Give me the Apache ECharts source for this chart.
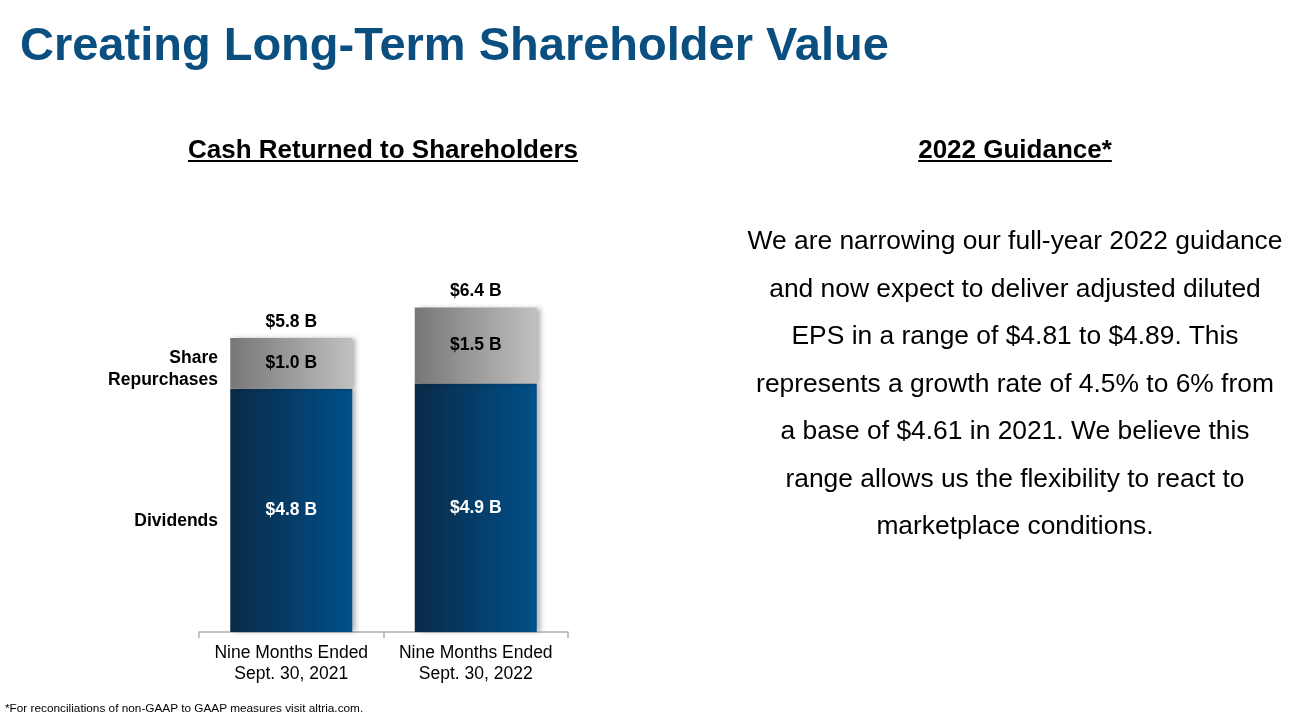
<!DOCTYPE html>
<html>
<head>
<meta charset="utf-8">
<title>Creating Long-Term Shareholder Value</title>
<script src="https://cdn.jsdelivr.net/npm/echarts@6/dist/echarts.min.js"></script>
<style>
  html, body { margin: 0; padding: 0; background: #fff; }
  body { width: 1301px; height: 721px; position: relative; overflow: hidden;
         font-family: "Liberation Sans", Arial, sans-serif; }
  #chart { position: absolute; left: 0; top: 0; width: 1301px; height: 721px; }
  .txt { position: absolute; white-space: nowrap; }
  #mainTitle { left: 20px; top: 16px; font-size: 47px; font-weight: bold; color: #0a4f80; }
  #chartTitle { left: 133px; top: 134px; width: 500px; text-align: center;
                font-size: 26px; font-weight: bold; color: #000; text-decoration: underline; }
  #guideTitle { left: 865px; top: 134px; width: 300px; text-align: center;
                font-size: 26px; font-weight: bold; color: #000; text-decoration: underline; }
  #guideText { left: 665px; top: 217px; width: 700px; text-align: center;
               font-size: 26.4px; line-height: 47.5px; color: #000; }
  #footnote { left: 5px; top: 701px; font-size: 11.8px; color: #000; }
</style>
</head>
<body>
<div id="chart"></div>
<div class="txt" id="mainTitle">Creating Long-Term Shareholder Value</div>
<div class="txt" id="chartTitle">Cash Returned to Shareholders</div>
<div class="txt" id="guideTitle">2022 Guidance*</div>
<div class="txt" id="guideText">We are narrowing our full-year 2022 guidance<br>and now expect to deliver adjusted diluted<br>EPS in a range of $4.81 to $4.89. This<br>represents a growth rate of 4.5% to 6% from<br>a base of $4.61 in 2021. We believe this<br>range allows us the flexibility to react to<br>marketplace conditions.</div>
<div class="txt" id="footnote">*For reconciliations of non-GAAP to GAAP measures visit altria.com.</div>
<script>
// 数据
var categories = ['Nine Months Ended\nSept. 30, 2021', 'Nine Months Ended\nSept. 30, 2022'];
var dividends = [4.8, 4.9];
var repurchases = [1.0, 1.5];
var totals = [5.8, 6.4];

var FONT = '"Liberation Sans", Arial, sans-serif';

function money(v) {
    return '$' + v.toFixed(1) + ' B';
}

var navy = new echarts.graphic.LinearGradient(0, 0, 1, 0, [
    { offset: 0, color: '#0a2a47' },
    { offset: 1, color: '#00508a' }
]);
var grey = new echarts.graphic.LinearGradient(0, 0, 1, 0, [
    { offset: 0, color: '#777777' },
    { offset: 1, color: '#c0c0c0' }
]);

var option = {
    animation: false,
    grid: { left: 199, width: 369, top: 125, height: 507 },
    xAxis: {
        type: 'category',
        data: categories,
        axisLine: { lineStyle: { color: '#b3b3b3', width: 1.5 } },
        axisTick: { show: true, interval: 0, length: 6, lineStyle: { color: '#b3b3b3', width: 1.5 } },
        axisLabel: { interval: 0, color: '#000', fontSize: 17.5, lineHeight: 21, margin: 11, fontFamily: FONT }
    },
    yAxis: { type: 'value', min: 0, max: 10, show: false },
    series: [
        {
            name: 'Dividends',
            type: 'bar',
            stack: 'cash',
            barWidth: 122,
            data: dividends,
            itemStyle: { color: navy, shadowColor: 'rgba(0,0,0,0.3)', shadowBlur: 5, shadowOffsetX: 4 },
            label: {
                show: true, position: 'inside', color: '#fff', fontWeight: 'bold',
                fontSize: 17.5, fontFamily: FONT,
                formatter: function (p) { return money(p.value); }
            }
        },
        {
            name: 'Share Repurchases',
            type: 'bar',
            stack: 'cash',
            barWidth: 122,
            data: repurchases,
            itemStyle: { color: grey, shadowColor: 'rgba(0,0,0,0.3)', shadowBlur: 5, shadowOffsetX: 4 },
            label: {
                show: true, position: 'inside', color: '#000', fontWeight: 'bold',
                fontSize: 17.5, fontFamily: FONT,
                formatter: function (p) { return money(p.value); }
            }
        },
        {
            // 总额标签: 零高度的柱子放在堆叠顶部
            name: 'Total',
            type: 'bar',
            stack: 'cash',
            barWidth: 122,
            data: [0, 0],
            itemStyle: { color: 'transparent' },
            label: {
                show: true, position: 'top', distance: 7, color: '#000', fontWeight: 'bold',
                fontSize: 17.5, fontFamily: FONT,
                formatter: function (p) { return money(totals[p.dataIndex]); }
            }
        }
    ],
    graphic: [
        {
            type: 'text', x: 218, y: 369,
            style: {
                text: 'Share\nRepurchases', align: 'right', verticalAlign: 'middle',
                fontWeight: 'bold', fontSize: 17.5, lineHeight: 22, fontFamily: FONT, fill: '#000'
            }
        },
        {
            type: 'text', x: 218, y: 521,
            style: {
                text: 'Dividends', align: 'right', verticalAlign: 'middle',
                fontWeight: 'bold', fontSize: 17.5, fontFamily: FONT, fill: '#000'
            }
        }
    ]
};

var myChart = echarts.init(document.getElementById('chart'));
myChart.setOption(option);
</script>
</body>
</html>
